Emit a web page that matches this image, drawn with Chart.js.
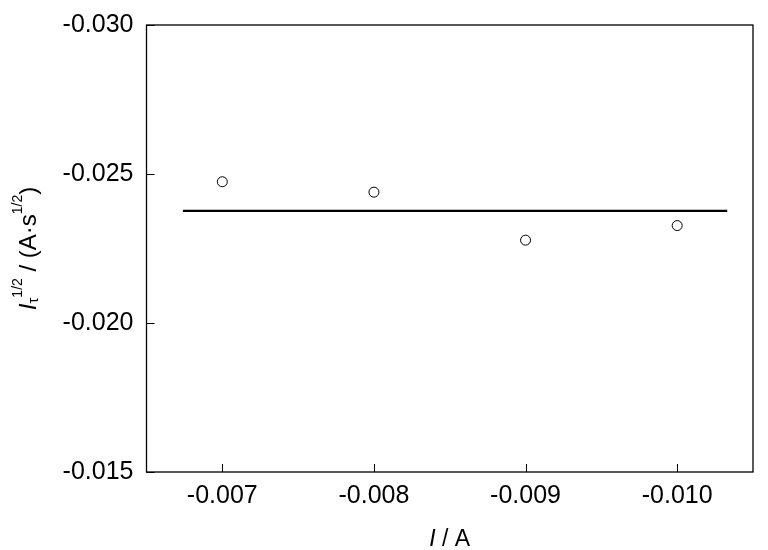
<!DOCTYPE html>
<html>
<head>
<meta charset="utf-8">
<script src="https://cdn.jsdelivr.net/npm/chart.js@4.4.1/dist/chart.umd.min.js"></script>
<style>
  html, body { margin: 0; padding: 0; background: #fff; }
  #wrap { width: 768px; height: 550px; }
</style>
</head>
<body>
<div id="wrap"><canvas id="chart"></canvas></div>
<script>
// measured points
const currents = [-0.007, -0.008, -0.009, -0.010];
const itau = [-0.02474, -0.02439, -0.02278, -0.02327];
// horizontal fit line
const fitX = [-0.00674, -0.01033];
const fitY = [-0.02376, -0.02376];
const xTicks = [-0.007, -0.008, -0.009, -0.010];
const yTicks = [-0.030, -0.025, -0.020, -0.015];

const FONT = '"Liberation Sans", Arial, sans-serif';

// box around plot + inward tick marks + axis titles
const frame = {
    id: 'frame',
    afterDraw(chart) {
        const { ctx, chartArea: a, scales } = chart;
        ctx.save();
        ctx.strokeStyle = '#000';
        ctx.lineWidth = 1.3;
        ctx.strokeRect(a.left, a.top, a.right - a.left, a.bottom - a.top);

        ctx.beginPath();
        xTicks.forEach(v => {
            const px = Math.round(scales.x.getPixelForValue(v)) + 0.5;
            ctx.moveTo(px, a.bottom);
            ctx.lineTo(px, a.bottom - 8);
        });
        yTicks.forEach(v => {
            const py = Math.round(scales.y.getPixelForValue(v)) + 0.5;
            ctx.moveTo(a.left, py);
            ctx.lineTo(a.left + 8, py);
        });
        ctx.lineWidth = 1;
        ctx.stroke();

        // x title
        ctx.fillStyle = '#000';
        ctx.textBaseline = 'alphabetic';
        const cx = (a.left + a.right) / 2;
        ctx.font = 'italic 23px ' + FONT;
        const wI = ctx.measureText('I').width;
        ctx.font = '23px ' + FONT;
        const wRest = ctx.measureText(' / A').width;
        let x0 = cx - (wI + wRest) / 2;
        ctx.font = 'italic 23px ' + FONT;
        ctx.fillText('I', x0, 546);
        ctx.font = '23px ' + FONT;
        ctx.fillText(' / A', x0 + wI, 546);

        // y title, rotated
        const parts = [
            { t: 'I', f: 'italic 24px ', dy: 0 },
            { t: 'τ', f: '15px ', dy: 2 },
            { t: '1/2', f: '14px ', dy: -14 },
            { t: ' / (A·s', f: '24px ', dy: 0 },
            { t: '1/2', f: '14px ', dy: -14 },
            { t: ')', f: '24px ', dy: 0 }
        ];
        let total = 0;
        parts.forEach(p => { ctx.font = p.f + FONT; p.w = ctx.measureText(p.t).width; total += p.w; });
        ctx.translate(36, (a.top + a.bottom) / 2);
        ctx.rotate(-Math.PI / 2);
        let px = -total / 2;
        parts.forEach(p => {
            ctx.font = p.f + FONT;
            ctx.fillText(p.t, px, p.dy);
            px += p.w;
        });
        ctx.restore();
    }
};

new Chart(document.getElementById('chart'), {
    type: 'scatter',
    data: {
        datasets: [
            {
                data: currents.map((x, i) => ({ x: x, y: itau[i] })),
                pointStyle: 'circle',
                pointRadius: 5,
                pointBorderWidth: 1,
                pointBorderColor: '#000',
                pointBackgroundColor: '#fff',
                showLine: false
            },
            {
                data: fitX.map((x, i) => ({ x: x, y: fitY[i] })),
                showLine: true,
                borderColor: '#000',
                borderWidth: 2.2,
                pointRadius: 0,
                fill: false
            }
        ]
    },
    options: {
        responsive: true,
        maintainAspectRatio: false,
        animation: false,
        layout: { padding: { top: 25, right: 15, left: 0, bottom: 0 } },
        plugins: { legend: { display: false }, tooltip: { enabled: false } },
        scales: {
            x: {
                type: 'linear',
                reverse: true,
                min: -0.0105,
                max: -0.0065,
                afterBuildTicks: s => { s.ticks = xTicks.map(v => ({ value: v })); },
                afterFit: s => { s.height = 78; },
                grid: { display: false },
                border: { display: false },
                ticks: {
                    color: '#000',
                    font: { family: FONT, size: 25 },
                    padding: 1,
                    maxRotation: 0,
                    callback: v => v.toFixed(3)
                }
            },
            y: {
                type: 'linear',
                reverse: true,
                min: -0.030,
                max: -0.015,
                afterBuildTicks: s => { s.ticks = yTicks.map(v => ({ value: v })); },
                afterFit: s => { s.width = 146.5; },
                grid: { display: false },
                border: { display: false },
                ticks: {
                    color: '#000',
                    font: { family: FONT, size: 25 },
                    padding: 5,
                    callback: v => v.toFixed(3)
                }
            }
        }
    },
    plugins: [frame]
});
</script>
</body>
</html>
